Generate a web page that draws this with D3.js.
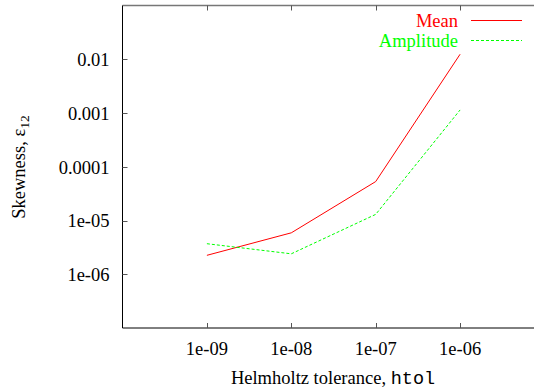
<!DOCTYPE html>
<html>
<head>
<meta charset="utf-8">
<script src="https://cdn.jsdelivr.net/npm/d3@7"></script>
<style>
  body { margin: 0; background: #fff; }
</style>
</head>
<body>
<svg id="chart" width="534" height="390"></svg>
<script>
// data
const tolerances = [1e-9, 1e-8, 1e-7, 1e-6]
const meanValues = [2.25e-6, 5.9e-6, 5.3e-5, 0.0124]
const amplitudeValues = [3.7e-6, 2.4e-6, 1.3e-5, 1.14e-3]
const xTicks = [1e-9, 1e-8, 1e-7, 1e-6]
const xTickLabels = ['1e-09', '1e-08', '1e-07', '1e-06']
const yTicks = [1e-6, 1e-5, 1e-4, 1e-3, 1e-2]
const yTickLabels = ['1e-06', '1e-05', '0.0001', '0.001', '0.01']

const series = [
  { name: 'Mean', values: meanValues, color: '#ff0000', dash: null },
  { name: 'Amplitude', values: amplitudeValues, color: '#00ff00', dash: '3,2' }
]

const SERIF = 'Liberation Serif'
const MONO = 'Liberation Mono'
const FS = 18.5

const plotLeft = 122.5, plotRight = 544.5, plotTop = 5.5, plotBottom = 328

const svg = d3.select('#chart')

const x = d3.scaleLog().domain([1e-10, 1e-5]).range([plotLeft, plotRight])
const y = d3.scaleLog().domain([1e-7, 0.1]).range([plotBottom, plotTop])

// frame
svg.append('line')
  .attr('x1', plotLeft).attr('x2', 534).attr('y1', plotTop).attr('y2', plotTop)
  .attr('stroke', '#777').attr('stroke-width', 1.5)
svg.append('line')
  .attr('x1', plotLeft).attr('x2', plotLeft).attr('y1', plotTop).attr('y2', plotBottom)
  .attr('stroke', '#000')
svg.append('line')
  .attr('x1', plotLeft).attr('x2', 534).attr('y1', plotBottom).attr('y2', plotBottom)
  .attr('stroke', '#000')

// x ticks (bottom and mirrored on top)
xTicks.forEach(function (t, i) {
  const px = Math.round(x(t)) + 0.5
  svg.append('line')
    .attr('x1', px).attr('x2', px).attr('y1', plotBottom).attr('y2', plotBottom - 5)
    .attr('stroke', '#555')
  svg.append('line')
    .attr('x1', px).attr('x2', px).attr('y1', plotTop).attr('y2', plotTop + 5)
    .attr('stroke', '#555')
  svg.append('text')
    .attr('x', x(t)).attr('y', 354.5)
    .attr('text-anchor', 'middle')
    .attr('font-family', SERIF)
    .attr('font-size', FS)
    .text(xTickLabels[i])
})

// y ticks
yTicks.forEach(function (t, i) {
  const py = Math.round(y(t)) + 0.5
  svg.append('line')
    .attr('x1', plotLeft).attr('x2', plotLeft + 5).attr('y1', py).attr('y2', py)
    .attr('stroke', '#555')
  svg.append('text')
    .attr('x', 109.5).attr('y', y(t) + 6.8)
    .attr('text-anchor', 'end')
    .attr('font-family', SERIF)
    .attr('font-size', FS)
    .text(yTickLabels[i])
})

// axis titles
const xTitle = svg.append('text')
  .attr('x', 333).attr('y', 383.5)
  .attr('text-anchor', 'middle')
  .attr('font-family', SERIF)
  .attr('font-size', FS)
xTitle.append('tspan').text('Helmholtz tolerance, ')
xTitle.append('tspan')
  .attr('font-family', MONO)
  .attr('font-size', FS)
  .text('htol')

const yTitle = svg.append('text')
  .attr('transform', 'translate(25,167) rotate(-90)')
  .attr('text-anchor', 'middle')
  .attr('font-family', SERIF)
  .attr('font-size', FS)
yTitle.append('tspan').text('Skewness, ε')
yTitle.append('tspan')
  .attr('font-size', 13.5)
  .attr('dy', 4)
  .text('12')

// lines
const line = d3.line()
  .x(function (d, i) { return x(tolerances[i]) })
  .y(function (d) { return y(d) })

series.forEach(function (s, i) {
  svg.append('path')
    .datum(s.values)
    .attr('d', line)
    .attr('fill', 'none')
    .attr('stroke', s.color)
    .attr('stroke-width', 1)
    .attr('stroke-dasharray', s.dash)

  // legend
  const ly = 20 + i * 20
  svg.append('text')
    .attr('x', 458).attr('y', ly + 6.5)
    .attr('text-anchor', 'end')
    .attr('font-family', SERIF)
    .attr('font-size', FS)
    .attr('fill', s.color)
    .text(s.name)
  svg.append('line')
    .attr('x1', 471).attr('x2', 522).attr('y1', ly + 0.5).attr('y2', ly + 0.5)
    .attr('stroke', s.color)
    .attr('stroke-width', 1)
    .attr('stroke-dasharray', s.dash)
})
</script>
</body>
</html>
